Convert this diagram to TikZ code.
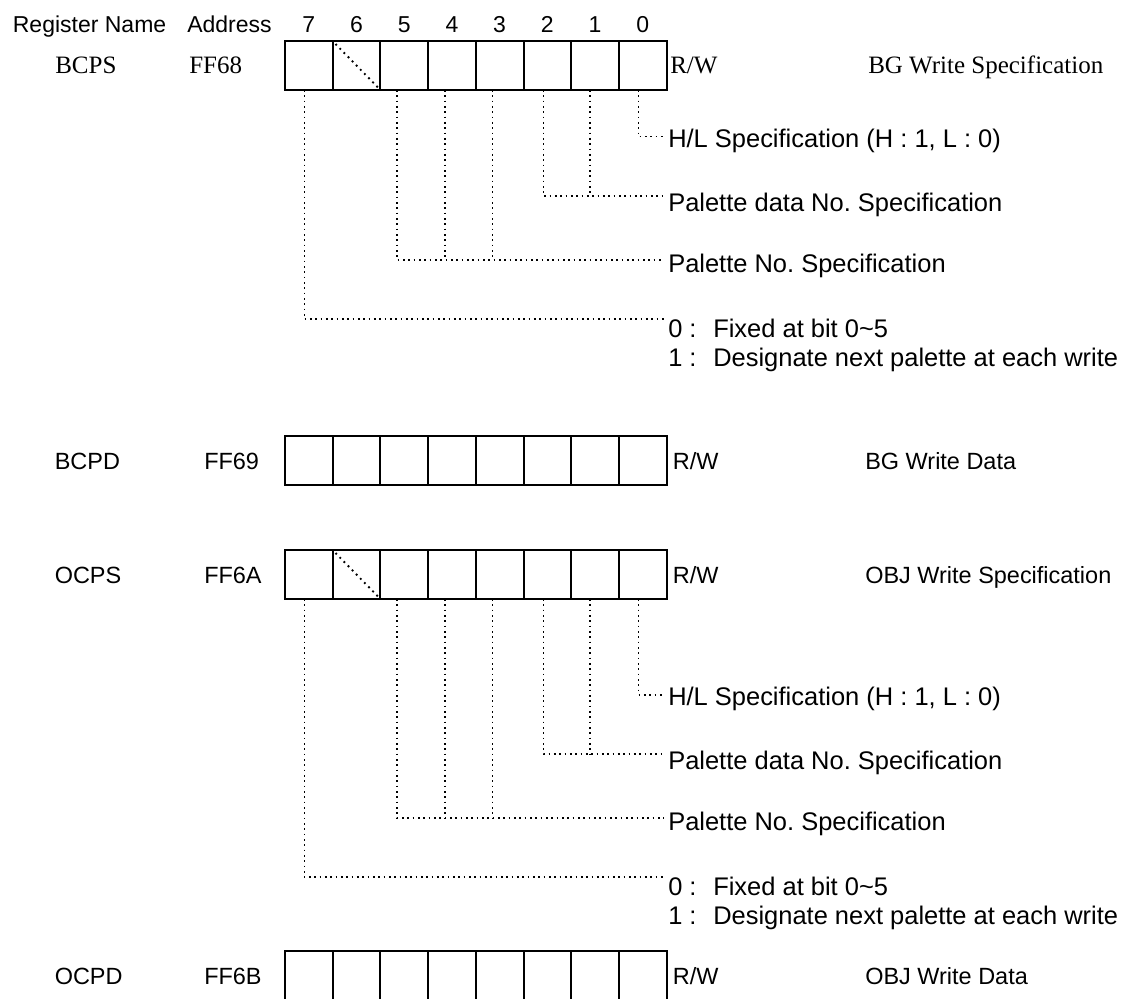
\documentclass[tikz,border=0pt]{standalone}
\usepackage{fontspec}
\setmainfont{Liberation Serif}
\setsansfont{Liberation Sans}
\frenchspacing
\begin{document}
\begin{tikzpicture}[x=0.75pt,y=-0.75pt,
  hdr/.style={font=\sffamily\fontsize{17.25pt}{20pt}\selectfont,inner sep=0pt},
  lab/.style={font=\sffamily\fontsize{17.6pt}{20pt}\selectfont,inner sep=0pt,anchor=base west},
  slab/.style={font=\rmfamily\fontsize{18.75pt}{22pt}\selectfont,inner sep=0pt,anchor=base west},
  desc/.style={font=\sffamily\fontsize{19.1pt}{22pt}\selectfont,inner sep=0pt,anchor=base west},
  regbox/.style={line width=1.5pt},
  lead/.style={line width=1.2pt,dash pattern=on 1.2pt off 2.8pt},
  diag/.style={line width=1.4pt,dash pattern=on 1.4pt off 3pt}]
\useasboundingbox (0,0) rectangle (1136,999);
% header
\node[hdr,anchor=base west] (hname) at (12.6,33) {Register Name};
\node[hdr,anchor=base west] (haddr) at (187,33) {Address};
\foreach \b [count=\k from 0] in {7,6,5,4,3,2,1,0}
  \node[hdr,anchor=base] (h\b) at (308.8+47.7*\k,33) {\b};
% register rows: top y
\foreach \r/\t in {bcps/41,bcpd/436,ocps/550,ocpd/951}{
  \draw[regbox] (285,\t) rectangle (666.6,\t+49);
  \foreach \k in {1,...,7}
    \draw[regbox] (285+47.7*\k,\t) -- (285+47.7*\k,\t+49);
}
\draw[diag] (335.5,44) -- (378,87.5);
\draw[diag] (335.5,553) -- (378,596.5);
% row labels
\node[slab] (n1) at (55,74) {BCPS};
\node[slab] (a1) at (189,74) {FF68};
\node[slab] (rw1) at (670,74) {R/W};
\node[slab] (d1) at (868,74) {BG Write Specification};
\node[lab] (n2) at (54.5,469) {BCPD};
\node[lab] (a2) at (204,469) {FF69};
\node[lab] (rw2) at (672.7,469) {R/W};
\node[lab] (d2) at (865,469) {BG Write Data};
\node[lab] (n3) at (54.5,583) {OCPS};
\node[lab] (a3) at (204,583) {FF6A};
\node[lab] (rw3) at (672.7,583) {R/W};
\node[lab] (d3) at (865,583) {OBJ Write Specification};
\node[lab] (n4) at (54.5,984) {OCPD};
\node[lab] (a4) at (204,984) {FF6B};
\node[lab] (rw4) at (672.7,984) {R/W};
\node[lab] (d4) at (865,984) {OBJ Write Data};
% leaders for BCPS (box bottom 90) and OCPS (box bottom 599)
\foreach \p/\yb/\o in {b/90/0,o/599/558}{
  \foreach \n/\x in {7/304.3,5/397,4/444.7,3/492.3,2/543.3,1/590,0/638.3}
    \coordinate (\p s\n) at (\x,\yb);
  \coordinate (\p e0) at (664,136.7+\o);
  \coordinate (\p e1) at (664,195.7+\o);
  \coordinate (\p e2) at (664,260+\o);
  \coordinate (\p e3) at (664,319+\o);
  \node[desc] (\p hl) at (668,147+\o) {H/L Specification (H : 1, L : 0)};
  \node[desc] (\p pd) at (668,211+\o) {Palette data No. Specification};
  \node[desc] (\p pn) at (668,272+\o) {Palette No. Specification};
  \node[desc] (\p z) at (668,337+\o) {0 :};
  \node[desc] (\p zt) at (713,337+\o) {Fixed at bit 0\textasciitilde5};
  \node[desc] (\p u) at (668,366+\o) {1 :};
  \node[desc] (\p ut) at (713,366+\o) {Designate next palette at each write};
  \draw[lead] (\p s0) |- (\p e0);
  \draw[lead] (\p s2) |- (\p e1);
  \draw[lead] (\p s1) -- (\p s1 |- \p e1);
  \draw[lead] (\p s5) |- (\p e2);
  \draw[lead] (\p s4) -- (\p s4 |- \p e2);
  \draw[lead] (\p s3) -- (\p s3 |- \p e2);
  \draw[lead] (\p s7) |- (\p e3);
}
\end{tikzpicture}
\end{document}
